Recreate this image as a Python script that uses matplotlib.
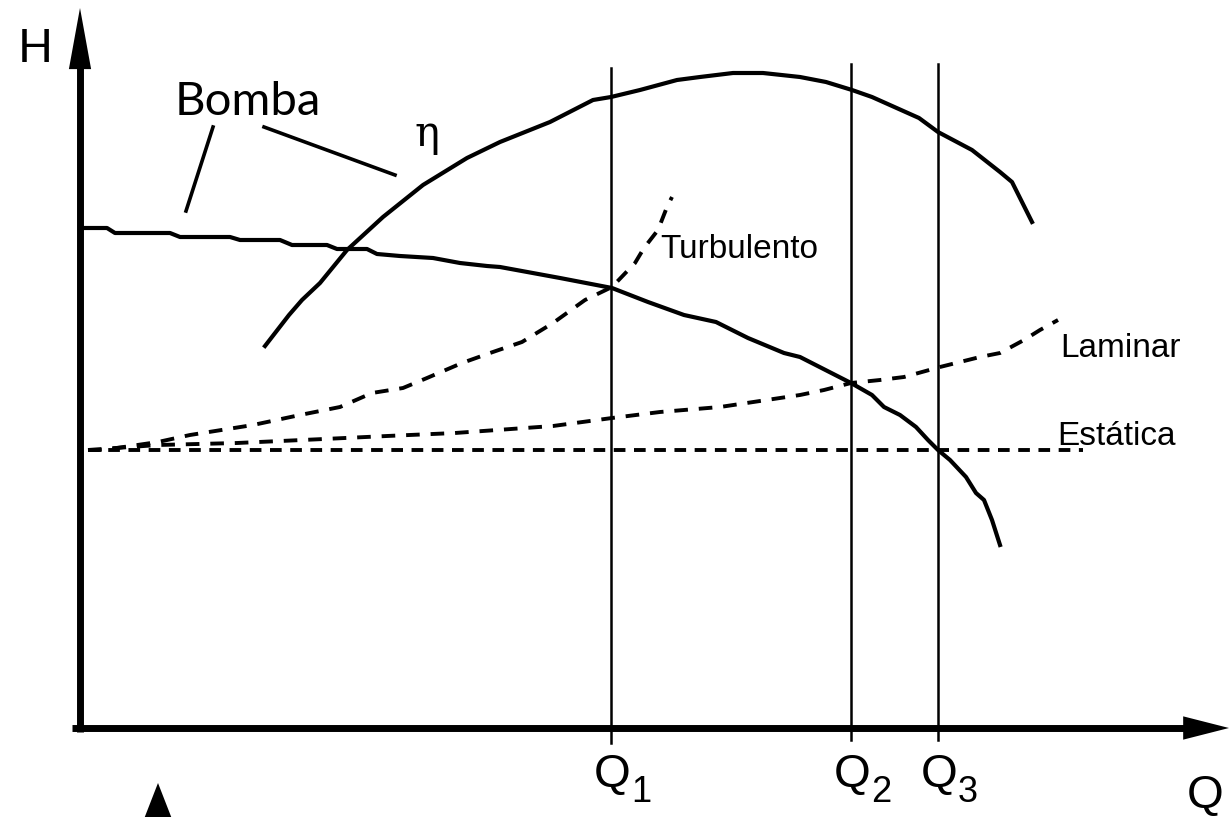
import numpy as np
import matplotlib
matplotlib.use("Agg")
from matplotlib import pyplot as plt

# Pump head curve (Q, H)
bomba_q = [0, 27, 35, 90, 100, 150, 160, 200, 212, 247, 257, 287, 297, 320, 353, 380,
           407, 420, 480, 532, 568, 604, 636, 668, 704, 720, 771, 792, 804, 820, 836,
           848, 858, 870, 886, 896, 904, 912, 920]
bomba_h = [500, 500, 495, 495, 491, 491, 488, 488, 483, 483, 479, 479, 474, 472, 470, 465,
           462, 461, 450, 440, 426, 413, 406, 390, 375, 371, 345, 333, 321, 313, 301,
           288, 278, 268, 251, 235, 228, 208, 183]

# Efficiency curve
eta_q = [185, 209, 222, 240, 267, 303, 343, 387, 420, 470, 513, 531, 560, 597, 620, 653,
         683, 720, 746, 772, 792, 839, 858, 892, 920, 932, 952]
eta_h = [382, 413, 428, 445, 478, 511, 543, 570, 586, 606, 628, 631, 638, 648, 651, 655,
         655, 651, 646, 638, 631, 610, 596, 578, 556, 546, 506]

# System curves
laminar_q = [8, 78, 157, 244, 307, 375, 473, 532, 580, 640, 720, 744, 771, 800, 824,
             860, 900, 920, 944, 960, 978]
laminar_h = [278, 283, 285, 289, 292, 295, 302, 310, 316, 321, 333, 338, 345, 348, 351,
             361, 371, 375, 388, 398, 408]

turb_q = [8, 23, 78, 110, 173, 220, 260, 292, 323, 347, 382, 410, 442, 473, 505, 532,
          555, 564, 578, 587, 592]
turb_h = [278, 278, 286, 293, 303, 313, 321, 335, 340, 350, 365, 375, 386, 405, 428, 441,
          465, 480, 498, 521, 531]

static_q = [8, 1003]
static_h = [278, 278]

# Operating points
op_q = [531, 771, 858]
op_labels = ["1", "2", "3"]

fig = plt.figure(figsize=(12.29, 8.17), dpi=100)
ax = fig.add_axes([0, 0, 1, 1])
ax.set_xlim(-80, 1149)
ax.set_ylim(-89, 728)
ax.axis("off")

sans = ["Liberation Sans", "DejaVu Sans"]


def arrow_head(tip, tail, length, width):
    # filled triangle only, the shaft is drawn separately
    ax.annotate("", xy=tip, xytext=tail, annotation_clip=False,
                arrowprops=dict(arrowstyle=f"-|>,head_length={length},head_width={width}",
                                mutation_scale=20, lw=0, color="black",
                                shrinkA=0, shrinkB=0))


# axes
ax.plot([0, 0], [-4, 670], color="black", lw=5, solid_capstyle="butt")
ax.plot([-8, 1110], [0, 0], color="black", lw=5, solid_capstyle="butt")
arrow_head((0, 720), (0, 600), 2.2, 0.4)
arrow_head((1149, 0), (1000, 0), 1.65, 0.42)
arrow_head((78, -55), (78, -140), 1.8, 0.7)

# vertical lines at the operating points
for q, top, bot in zip(op_q, [660, 664, 664], [-15, -12, -12]):
    ax.plot([q, q], [bot, top], color="black", lw=1.8)

ax.plot(static_q, static_h, color="black", lw=2.8, dashes=(3, 2.2))
ax.plot(laminar_q, laminar_h, color="black", lw=2.8, dashes=(3.5, 2.8))
ax.plot(turb_q, turb_h, color="black", lw=2.8, dashes=(3.5, 2.8))
ax.plot(bomba_q, bomba_h, color="black", lw=3, solid_joinstyle="round")
ax.plot(eta_q, eta_h, color="black", lw=3, solid_joinstyle="round")

# labels
ax.text(-62, 666, "H", fontsize=33, family=["Lato", "DejaVu Sans"], va="baseline")
ax.text(95, 613, "Bomba", fontsize=34, family=["Lato", "DejaVu Sans"], va="baseline")
ax.plot([133, 106], [601, 517], color="black", lw=2.6)
ax.plot([184, 315], [601, 553], color="black", lw=2.6)
ax.text(347, 582, "η", fontsize=30, family=["DejaVu Serif"], ha="center", va="baseline")

ax.text(580, 470, "Turbulento", fontsize=24, family=sans, va="baseline")
ax.text(980, 371, "Laminar", fontsize=24, family=sans, va="baseline")
ax.text(977, 283, "Estática", fontsize=24, family=sans, va="baseline")

for q, sub in zip(op_q, op_labels):
    ax.text(q - 17, -59, "Q", fontsize=34, family=sans, va="baseline")
    ax.text(q + 20, -74, sub, fontsize=26, family=sans, va="baseline")
ax.text(1107, -80, "Q", fontsize=34, family=sans, va="baseline")

fig.savefig("out.png", dpi=100)
